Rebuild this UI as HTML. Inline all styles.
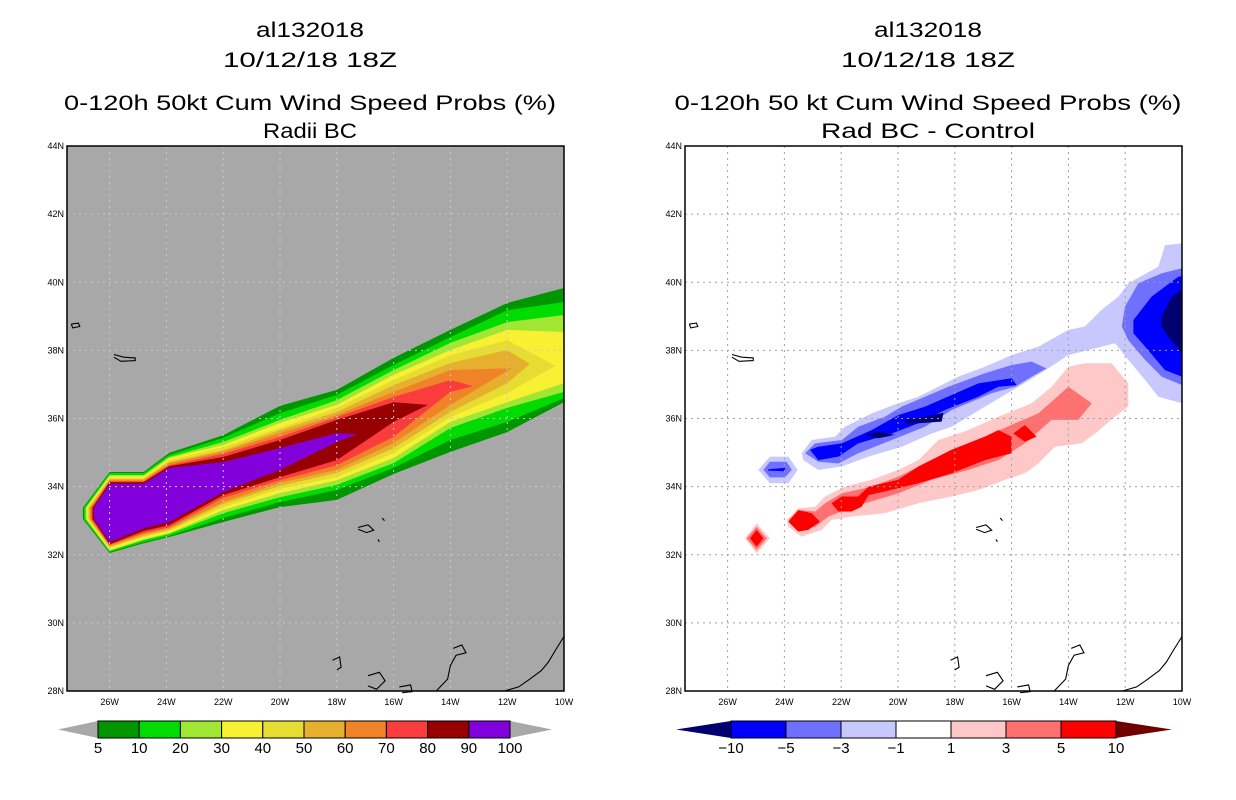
<!DOCTYPE html>
<html><head><meta charset="utf-8"><style>
html,body{margin:0;padding:0;background:#fff;}
svg{display:block;font-family:"Liberation Sans",sans-serif;}
</style></head><body>
<svg id="root" width="1236" height="800" viewBox="0 0 1236 800" xmlns="http://www.w3.org/2000/svg">
<rect width="1236" height="800" fill="#fff"/>
<g id="L"></g>
<g id="R"></g>
</svg>
<script>
// ---------- DATA ----------
const xTicks=[26,24,22,20,18,16,14,12,10];
const yTicks=[44,42,40,38,36,34,32,30,28];
const probLevels=[5,10,20,30,40,50,60,70,80,90,100];
const probColors=["#009600","#00dc00","#a0e632","#f8f032","#e6dc32","#e6af2d","#f08228","#fa3c3c","#960000","#8200dc"];
const diffLevels=[-10,-5,-3,-1,1,3,5,10];
const diffColors=["#000070","#0000ff","#7070ff","#c8c8ff","#ffffff","#ffc8c8","#ff7070","#ff0000","#6e0000"];
// cross-section stations (deg W)
const stations=[26,24.8,23.9,22,20,18,16,14,12,10];
// upper / lower contour latitudes per probability level
const probTop=[
[34.43,34.43,34.99,35.51,36.37,36.84,37.78,38.60,39.39,39.83],
[34.40,34.40,34.93,35.43,36.16,36.69,37.57,38.39,39.18,39.42],
[34.34,34.34,34.87,35.31,35.96,36.54,37.42,38.22,38.83,39.04],
[34.31,34.31,34.84,35.22,35.87,36.40,37.28,38.01,38.60,38.54],
[34.25,34.25,34.78,35.16,35.72,36.31,37.13,37.86,38.30],
[34.22,34.22,34.72,35.07,35.66,36.19,36.98,37.63,38.01],
[34.19,34.19,34.69,35.02,35.57,36.10,36.78,37.42],
[34.16,34.16,34.63,34.96,35.46,36.04,36.63,37.13],
[34.13,34.13,34.60,34.87,35.37,35.96,36.48],
[34.08,34.08,34.55,34.72,35.13,35.57]];
const probBot=[
[32.05,32.34,32.52,32.96,33.40,33.61,34.37,35.02,35.60,36.48],
[32.08,32.37,32.55,33.08,33.55,33.90,34.55,35.37,35.90,36.60],
[32.11,32.43,32.61,33.22,33.69,34.05,34.69,35.72,36.31,36.78],
[32.14,32.46,32.64,33.31,33.81,34.19,34.84,35.90,36.48,37.04],
[32.20,32.52,32.70,33.40,33.93,34.28,34.99,36.04,36.75],
[32.23,32.55,32.73,33.49,34.02,34.40,35.13,36.19,37.04],
[32.26,32.61,32.78,33.55,34.11,34.49,35.28,36.40],
[32.29,32.64,32.81,33.67,34.19,34.63,35.46,36.78],
[32.31,32.70,32.87,33.75,34.28,34.78,35.90],
[32.37,32.78,32.96,33.84,34.49,35.31]];
const probEastTip=[null,null,null,null,[10.3,37.55],[11.2,37.6],[11.83,37.48],[13.2,36.95],[14.79,36.40],[17.29,35.54]];
const probWestTip=[26.94,26.90,26.85,26.81,26.77,26.73,26.68,26.64,26.60,26.55];
const westTipLat=[33.38,33.05];
// difference field contour polygons [lonW, lat]
const diffPolys=[
{lev:3,pts:[[23.39,34.98],[23.04,35.37],[22.22,35.47],[21.87,35.76],[20.93,36.15],[19.99,36.45],[19.28,36.64],[18.58,36.93],[17.88,37.23],[16.94,37.52],[16.00,37.86],[15.06,38.11],[14.00,38.60],[13.42,38.70],[12.83,39.19],[12.24,39.58],[11.89,39.97],[10.83,40.46],[10.60,41.09],[10.0,41.14],[10.0,36.45],[10.83,36.64],[11.30,37.13],[11.89,37.72],[12.36,38.21],[14.00,37.86],[14.71,37.47],[15.76,36.93],[16.94,36.35],[18.11,35.76],[18.81,35.56],[19.87,35.17],[21.04,34.88],[21.98,34.59],[22.81,34.49],[23.33,34.78]]},
{lev:3,pts:[[24.92,34.49],[24.51,34.88],[23.86,34.88],[23.53,34.49],[23.86,34.10],[24.51,34.10]]},
{lev:2,pts:[[23.27,34.98],[22.92,35.27],[21.98,35.37],[21.40,35.76],[20.46,36.05],[19.87,36.35],[19.05,36.64],[18.23,36.93],[16.94,37.33],[16.00,37.57],[15.29,37.67],[14.77,37.47],[15.29,37.23],[15.88,36.93],[16.70,36.74],[18.11,36.25],[19.05,35.76],[20.22,35.37],[21.40,34.98],[22.10,34.68],[22.81,34.73]]},
{lev:2,pts:[[24.74,34.49],[24.51,34.73],[23.92,34.73],[23.74,34.49],[23.98,34.27],[24.51,34.27]]},
{lev:2,pts:[[12.01,39.28],[11.54,39.97],[10.72,40.26],[10.0,40.41],[10.0,36.98],[10.72,37.23],[11.30,37.72],[11.89,38.30],[12.12,38.70]]},
{lev:1,pts:[[23.10,35.08],[22.81,35.17],[21.98,35.27],[20.93,35.66],[19.99,36.10],[19.05,36.35],[18.11,36.69],[17.17,37.03],[16.00,37.18],[15.82,36.98],[16.47,36.93],[17.17,36.64],[18.35,36.25],[19.28,35.86],[20.22,35.56],[21.40,35.27],[22.10,34.88],[22.81,34.78]]},
{lev:1,pts:[[24.57,34.51],[23.98,34.55],[23.98,34.45],[24.57,34.47]]},
{lev:1,pts:[[11.71,38.89],[11.07,39.58],[10.13,40.16],[10.0,40.18],[10.0,37.23],[10.60,37.42],[11.30,38.11],[11.71,38.50]]},
{lev:0,pts:[[21.16,35.52],[20.69,35.61],[20.11,35.52],[20.69,35.42]]},
{lev:0,pts:[[19.75,35.96],[19.05,36.05],[18.40,36.17],[18.46,35.91],[19.28,35.86],[19.70,35.86]]},
{lev:0,pts:[[10.72,38.99],[10.36,39.58],[10.0,39.77],[10.0,37.91],[10.48,38.40],[10.72,38.70]]},
{lev:5,pts:[[23.92,33.02],[23.51,33.36],[22.92,33.41],[22.57,33.71],[21.87,34.00],[20.93,34.20],[19.99,34.49],[19.28,34.78],[18.58,35.37],[17.52,35.66],[16.47,36.05],[15.29,36.45],[14.59,36.93],[14.00,37.52],[13.42,37.62],[12.48,37.62],[11.89,37.03],[11.89,36.35],[12.36,36.05],[13.06,35.56],[13.53,35.27],[14.47,35.17],[15.06,34.68],[15.53,34.39],[16.23,34.20],[17.17,33.90],[18.11,33.71],[19.28,33.51],[20.46,33.22],[21.63,33.12],[22.34,33.02],[22.69,32.73],[23.39,32.53],[23.86,32.82]]},
{lev:5,pts:[[25.39,32.48],[24.98,32.92],[24.51,32.48],[24.98,32.04]]},
{lev:6,pts:[[23.86,33.02],[23.51,33.31],[22.92,33.27],[22.57,33.51],[21.98,33.80],[20.93,34.00],[19.99,34.29],[19.05,34.68],[18.11,35.08],[16.94,35.47],[15.88,35.86],[15.06,36.15],[14.00,36.93],[13.18,36.45],[13.65,35.96],[14.59,35.96],[15.53,35.27],[16.47,34.78],[17.52,34.49],[18.81,34.20],[19.99,33.80],[21.16,33.51],[21.87,33.31],[22.45,33.12],[22.92,32.82],[23.51,32.73]]},
{lev:6,pts:[[25.33,32.48],[24.98,32.82],[24.62,32.48],[24.98,32.14]]},
{lev:7,pts:[[22.34,33.51],[21.98,33.71],[21.40,33.71],[21.04,34.00],[19.99,34.20],[19.28,34.59],[18.11,35.08],[16.94,35.47],[16.47,35.66],[16.00,35.47],[16.00,34.98],[16.94,34.78],[18.11,34.39],[19.28,34.10],[19.99,33.95],[21.04,33.75],[21.28,33.41],[21.63,33.27],[22.10,33.27]]},
{lev:7,pts:[[15.94,35.56],[15.53,35.81],[15.12,35.47],[15.53,35.32]]},
{lev:7,pts:[[23.86,32.97],[23.51,33.31],[23.04,33.22],[22.75,32.97],[23.16,32.73],[23.51,32.68]]},
{lev:7,pts:[[25.21,32.48],[24.98,32.73],[24.74,32.48],[24.98,32.24]]}];
// coastlines [lonW, lat]
const coasts=[
[[27.35,38.77],[27.1,38.80],[27.05,38.70],[27.3,38.66],[27.35,38.77]],
[[25.85,37.88],[25.5,37.80],[25.1,37.78],[25.1,37.70],[25.6,37.68],[25.85,37.80]],
[[17.25,32.80],[16.9,32.88],[16.7,32.72],[16.95,32.65],[17.25,32.75]],
[[16.40,33.08],[16.32,33.0]],[[16.55,32.45],[16.5,32.38]],
[[18.15,28.90],[17.9,29.0],[17.85,28.7],[18.0,28.62]],
[[16.9,28.45],[16.5,28.55],[16.3,28.3],[16.6,28.05],[16.9,28.15]],
[[15.8,28.12],[15.4,28.18],[15.35,27.98],[15.7,27.95]],
[[14.5,28.0],[14.1,28.35],[14.0,28.75],[13.8,29.05],[13.45,29.12],[13.6,29.35],[13.9,29.25]],
[[12.1,28.0],[11.6,28.12],[11.2,28.35],[10.8,28.6],[10.55,28.85],[10.3,29.2],[10.0,29.6]]];

// ---------- AXES ----------
const NS="http://www.w3.org/2000/svg";
function mk(tag,attrs,parent){const e=document.createElementNS(NS,tag);for(const k in attrs)e.setAttribute(k,attrs[k]);parent.appendChild(e);return e;}
const Y0=146,Y1=691;
function yScale(lat){return Y0+(44-lat)*(Y1-Y0)/16;}
function makeX(x0,x1){return lonW=>x0+(27.5-lonW)*(x1-x0)/17.5;}
function pathOf(pts,xs){return pts.map((p,i)=>(i?"L":"M")+xs(p[0]).toFixed(1)+","+yScale(p[1]).toFixed(1)).join("")+"Z";}

function titles(g,cx,lines){
  const ys=[37,67,110,138];
  lines.forEach((t,i)=>{const e=mk("text",{x:cx,y:ys[i],"text-anchor":"middle","font-size":"21",fill:"#000",textLength:t[1],lengthAdjust:"spacingAndGlyphs"},g);
    e.textContent=t[0];
    
    });
}
function axes(g,xs,x0,x1,gridColor){
  xTicks.forEach(t=>{const x=xs(t);
    const l=mk("line",{x1:x,x2:x,y1:Y0,y2:Y1,stroke:gridColor,"stroke-dasharray":"2,4","stroke-width":1},g);
    
    const tx=mk("text",{x:x,y:705,"text-anchor":"middle","font-size":"9",fill:"#000"},g);tx.textContent=t+"W";
    });
  yTicks.forEach(t=>{const y=yScale(t);
    const l=mk("line",{x1:x0,x2:x1,y1:y,y2:y,stroke:gridColor,"stroke-dasharray":"2,4","stroke-width":1},g);
    
    const tx=mk("text",{x:x0-3,y:y+3,"text-anchor":"end","font-size":"9",fill:"#000"},g);tx.textContent=t+"N";
    });
}
function drawCoasts(g,xs){coasts.forEach(c=>{const d=c.map((p,i)=>(i?"L":"M")+xs(p[0]).toFixed(1)+","+yScale(p[1]).toFixed(1)).join("");
  const p=mk("path",{d:d,fill:"none",stroke:"#000","stroke-width":1.1},g);
  });}
function colorbar(g,bx0,bx1,tipL,tipR,cols,labels,leftTri,rightTri){
  const n=cols.length,w=(bx1-bx0)/n,yT=721,yB=738,ym=(yT+yB)/2;
  const tl=mk("polygon",{points:`${tipL},${ym} ${bx0},${yT} ${bx0},${yB}`,fill:leftTri},g);
  
  const tr=mk("polygon",{points:`${tipR},${ym} ${bx1},${yT} ${bx1},${yB}`,fill:rightTri},g);
  
  cols.forEach((c,i)=>{const r=mk("rect",{x:bx0+i*w,y:yT,width:w,height:yB-yT,fill:c,stroke:"#000","stroke-width":1},g);
    });
  labels.forEach((l,i)=>{const t=mk("text",{x:bx0+i*w,y:753,"text-anchor":"middle","font-size":"15",fill:"#000"},g);
    t.textContent=String(l).replace("-","\u2212");
    });
}

// ---------- LEFT PANEL ----------
(function(){
  const g=document.getElementById("L");const x0=67,x1=564;const xs=makeX(x0,x1);
  titles(g,310,[["al132018",108],["10/12/18 18Z",174],["0-120h 50kt Cum Wind Speed Probs (%)",492],["Radii BC",94]]);
  const bg=mk("rect",{x:x0,y:Y0,width:x1-x0,height:Y1-Y0,fill:"#a8a8a8"},g);
  
  probTop.forEach((top,k)=>{
    const bot=probBot[k];const pts=[[probWestTip[k],westTipLat[0]]];
    top.forEach((v,i)=>pts.push([stations[i],v]));
    if(probEastTip[k])pts.push(probEastTip[k]);
    for(let i=bot.length-1;i>=0;i--)pts.push([stations[i],bot[i]]);
    pts.push([probWestTip[k],westTipLat[1]]);
    const p=mk("path",{d:pathOf(pts,xs),fill:probColors[k]},g);
    
    
  });
  axes(g,xs,x0,x1,"#c8c8c8");
  drawCoasts(g,xs);
  const fr=mk("rect",{x:x0,y:Y0,width:x1-x0,height:Y1-Y0,fill:"none",stroke:"#000","stroke-width":1.5},g);
  
  colorbar(g,98,510,58,552,probColors,probLevels,"#a8a8a8","#a8a8a8");
})();

// ---------- RIGHT PANEL ----------
(function(){
  const g=document.getElementById("R");const x0=685,x1=1182;const xs=makeX(x0,x1);
  titles(g,928,[["al132018",108],["10/12/18 18Z",174],["0-120h 50 kt Cum Wind Speed Probs (%)",507],["Rad BC - Control",214]]);
  diffPolys.forEach(o=>{const p=mk("path",{d:pathOf(o.pts,xs),fill:diffColors[o.lev]},g);
    
    });
  axes(g,xs,x0,x1,"#a0a0a0");
  drawCoasts(g,xs);
  const fr=mk("rect",{x:x0,y:Y0,width:x1-x0,height:Y1-Y0,fill:"none",stroke:"#000","stroke-width":1.5},g);
  
  colorbar(g,731,1116,676,1172,diffColors.slice(1,8),diffLevels,diffColors[0],diffColors[8]);
})();
</script>
</body></html>
